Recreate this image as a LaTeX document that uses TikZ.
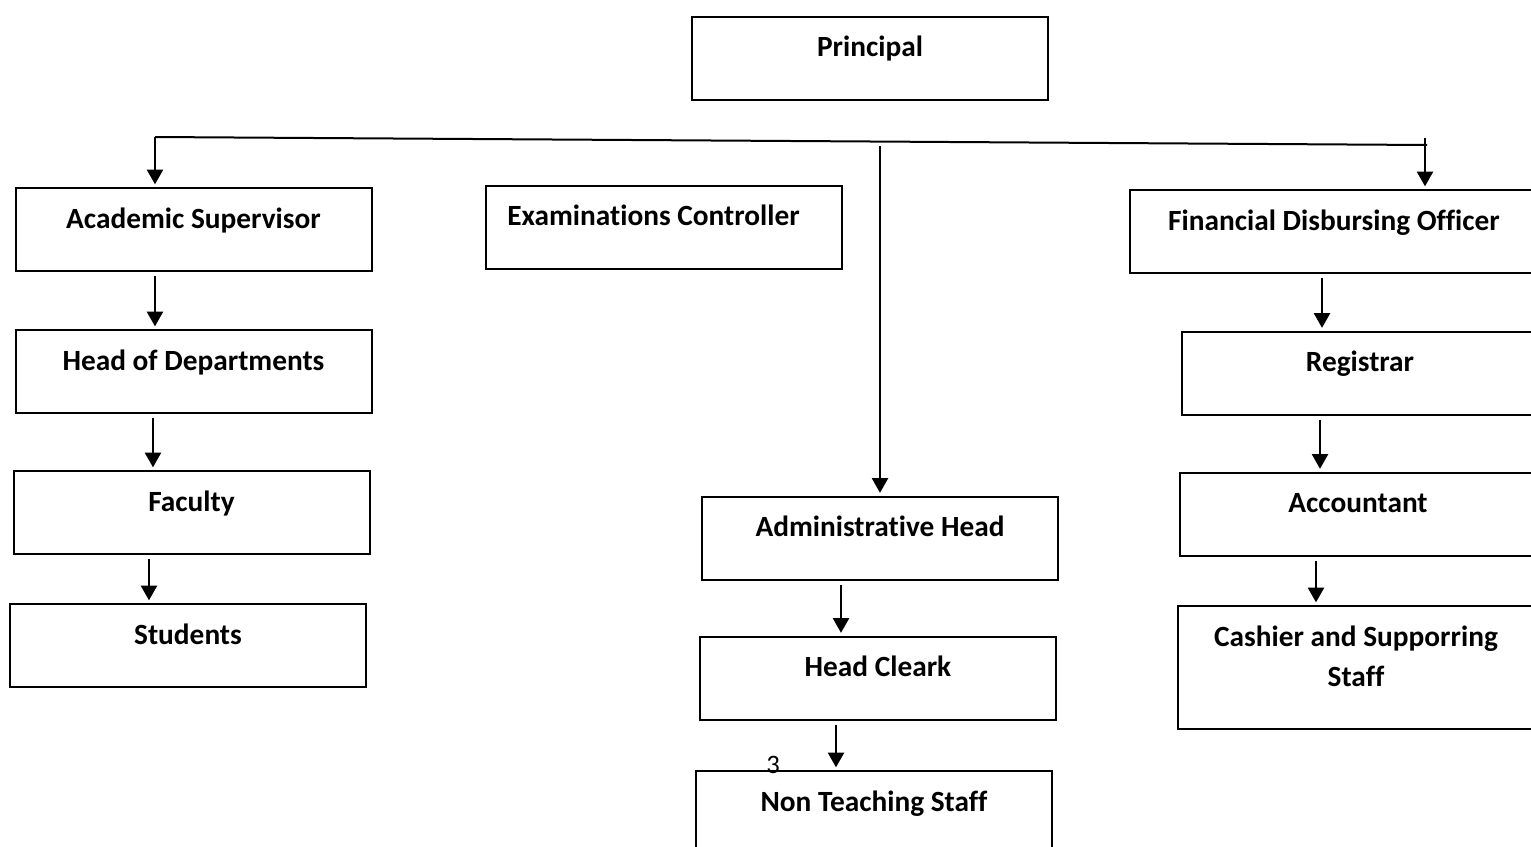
\documentclass[tikz,border=0pt]{standalone}
\usepackage{fontspec}
\setmainfont{Carlito}[Ligatures=NoCommon]
\usetikzlibrary{arrows.meta}

\tikzset{
  box/.style={draw, line width=1.5pt, inner xsep=4pt, inner ysep=0pt,
    minimum width=267pt, text height=30pt, text depth=32.25pt,
    align=center, font=\fontsize{22}{30}\selectfont\bfseries},
  arr/.style={line width=1.6pt, -{Triangle[width=12pt,length=11pt]},
    shorten <=3pt, shorten >=2pt},
  bus/.style={line width=1.5pt}
}

\begin{document}
\begin{tikzpicture}[x=0.75pt,y=0.75pt,yscale=-1,xscale=1]
\clip (0,0) rectangle (1531,846);

%Shape: Rectangle [Principal]
\node [box] (prin) at (870,58) {Principal};

%Shape: Rectangle [left column]
\node [box] (acad) at (193.5,229.5) {Academic Supervisor};
\node [box] (hod) at (193.5,371.5) {Head of Departments};
\node [box] (fac) at (191.5,512.5) {Faculty};
\node [box] (stud) at (188,645.5) {Students};

%Shape: Rectangle [middle]
\node [box] (exam) at (663.5,227) {Examinations Controller\hspace*{15pt}};
\node [box] (admh) at (880,538) {Administrative Head};
\node [box] (hclk) at (878,678) {Head Cleark};
\node [box] (nts) at (874,812.5) {Non Teaching Staff};

%Shape: Rectangle [right column]
\node [box, minimum width=306pt] (fdo) at (1334,231.5) {Financial Disbursing Officer};
\node [box] (reg) at (1360,373) {Registrar};
\node [box] (acc) at (1358,514) {Accountant};
\node [box, text height=60pt, text depth=32.25pt] (cash) at (1356,667.5) {Cashier and Supporring\\Staff};

%Straight Lines [bus]
\coordinate (busL) at (155,137);
\coordinate (busR) at (1427,145);
\coordinate (fdoTop) at (1425,138);
\coordinate (admTop) at (880,146);
\draw [bus] (busL) -- (busR);
\draw [arr, shorten <=0pt] (busL) -- (busL |- acad.north);
\draw [arr, shorten <=0pt] (fdoTop) -- (fdoTop |- fdo.north);
\draw [arr, shorten <=0pt] (admTop) -- (admh.north);

%Straight Lines [left column]
\draw [arr] ([xshift=-28.9pt]acad.south) -- ([xshift=-28.9pt]acad.south |- hod.north);
\draw [arr] ([xshift=-30.4pt]hod.south) -- ([xshift=-30.4pt]hod.south |- fac.north);
\draw [arr] ([xshift=-31.9pt]fac.south) -- ([xshift=-31.9pt]fac.south |- stud.north);

%Straight Lines [middle]
\draw [arr] ([xshift=-29.25pt]admh.south) -- ([xshift=-29.25pt]admh.south |- hclk.north);
\draw [arr] ([xshift=-31.5pt]hclk.south) -- ([xshift=-31.5pt]hclk.south |- nts.north);

%Straight Lines [right column]
\draw [arr] ([xshift=-9pt]fdo.south) -- ([xshift=-9pt]fdo.south |- reg.north);
\draw [arr] ([xshift=-30pt]reg.south) -- ([xshift=-30pt]reg.south |- acc.north);
\draw [arr] ([xshift=-31.5pt]acc.south) -- ([xshift=-31.5pt]acc.south |- cash.north);

% Text Node
\node [anchor=base, font=\fontsize{20}{22}\selectfont] (pgnum) at (773,773) {3};

\end{tikzpicture}
\end{document}
